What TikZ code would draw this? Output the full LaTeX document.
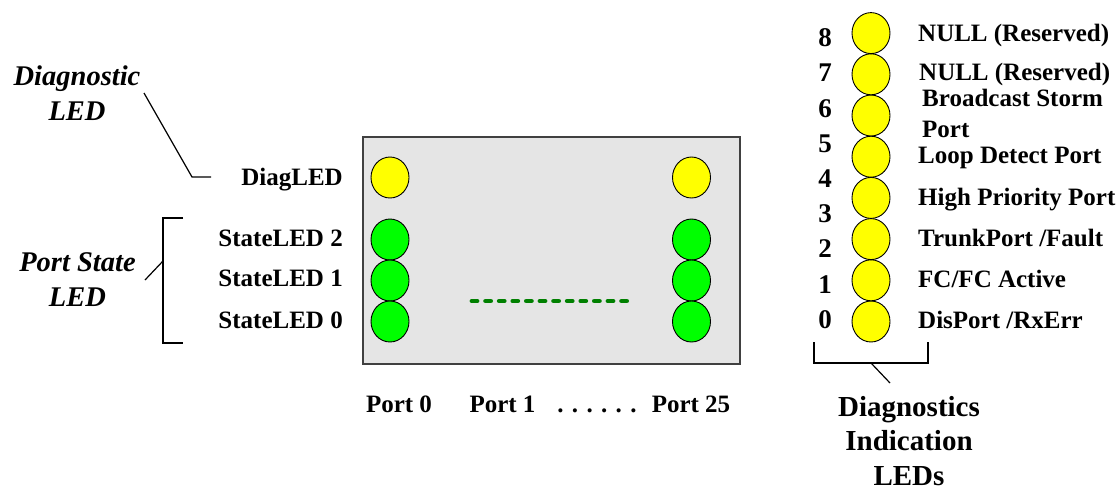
\documentclass[tikz,border=0pt]{standalone}
\usepackage{fontspec}
\setmainfont{Liberation Serif}
\usetikzlibrary{shapes.geometric}
\definecolor{panelgray}{RGB}{229,229,229}
\definecolor{paneledge}{RGB}{64,64,64}
\definecolor{ledyellow}{RGB}{255,255,0}
\definecolor{ledgreen}{RGB}{0,255,0}
\definecolor{dotgreen}{RGB}{0,128,0}

\begin{document}
\begin{tikzpicture}[x=1pt, y=-1pt,
	led/.style={ellipse, draw=black, line width=0.9pt, inner sep=0pt, minimum width=38pt, minimum height=41pt},
	ledtext/.style={font=\fontsize{25}{30.6}\selectfont\bfseries, inner sep=0pt},
	bignum/.style={font=\fontsize{27}{30}\selectfont\bfseries, inner sep=0pt},
	itlabel/.style={font=\fontsize{28.5}{35}\selectfont\bfseries\itshape, inner sep=0pt, align=center},
	pointer/.style={line width=1.2pt}]
\useasboundingbox (0,0) rectangle (1120,490);

% Draw panel
\node[draw=paneledge, fill=panelgray, line width=2pt, minimum width=377pt, minimum height=227pt, anchor=north west] (panel) at (362,136) {};

% Draw LEDs of port 0 and port 25
\foreach \x/\p in {390/0, 691.5/25} {
	\node[led, fill=ledyellow] (diag\p) at (\x,177.5) {};
	\node[led, fill=ledgreen] (state\p-2) at (\x,239.5) {};
	\node[led, fill=ledgreen] (state\p-1) at (\x,280.5) {};
	\node[led, fill=ledgreen] (state\p-0) at (\x,321.5) {};
}
\draw[dotgreen, line width=4.8pt, line cap=round, dash pattern=on 5pt off 8.6pt] (472,301) -- (629,301);

% Draw LED names
\node[ledtext, anchor=base east] (diaglbl) at (343,185) {DiagLED};
\node[ledtext, anchor=base east] (state2lbl) at (343,246.7) {StateLED 2};
\node[ledtext, anchor=base east] (state1lbl) at (343,286.7) {StateLED 1};
\node[ledtext, anchor=base east] (state0lbl) at (343,328.3) {StateLED 0};

% Draw port names
\node[ledtext, anchor=base] (port0) at (399,412.3) {Port 0};
\node[ledtext, anchor=base] (port1) at (502.5,412.3) {Port 1};
\node[ledtext, anchor=base] (portdots) at (597,412.3) {. . . . . .};
\node[ledtext, anchor=base] (port25) at (691,412.3) {Port 25};

% Draw notes on the left
\node[itlabel, anchor=base] (diagnote) at (77,120.7) {Diagnostic\\LED};
\node[itlabel, anchor=base] (statenote) at (77.5,306.7) {Port State\\LED};
\coordinate (diagA) at (144,93);
\coordinate (diagB) at (192,177);
\coordinate (diagC) at (211,177);
\draw[pointer] (diagA) -- (diagB) -- (diagC);
\draw[pointer] (183,218) -- (163,218) -- (163,343) -- (183,343);
\draw[pointer] (145,280) -- (163,261);

% Draw diagnostics LEDs
\foreach \i in {0,...,7}
	\node[led, fill=ledyellow] (bit\i) at (871,{321.5-41.2*\i}) {};
\foreach \n in {0,...,8}
	\node[bignum, anchor=base] (num\n) at (825,{328.3-35.2*\n}) {\n};

\node[ledtext, anchor=base west] (desc0) at (918,328.3) {DisPort /RxErr};
\node[ledtext, anchor=base west] (desc1) at (918,287.3) {FC/FC Active};
\node[ledtext, anchor=base west] (desc2) at (918,246.7) {TrunkPort /Fault};
\node[ledtext, anchor=base west] (desc3) at (918,205) {High Priority Port};
\node[ledtext, anchor=base west] (desc4) at (918,163.3) {Loop Detect Port};
\node[ledtext, anchor=base west, align=left] (desc5) at (922,137.3) {Broadcast Storm\\Port};
\node[ledtext, anchor=base west] (desc6) at (919,80) {NULL (Reserved)};
\node[ledtext, anchor=base west] (desc7) at (918,41.7) {NULL (Reserved)};

% Draw bracket and legend
\draw[pointer] (814,342) -- (814,363) -- (928,363) -- (928,342);
\draw[pointer] (871,363) -- (890,383);
\node[font=\fontsize{29}{34.2}\selectfont\bfseries, inner sep=0pt, align=center, anchor=base] (legend) at (909,485) {Diagnostics\\Indication\\LEDs};
\end{tikzpicture}
\end{document}
